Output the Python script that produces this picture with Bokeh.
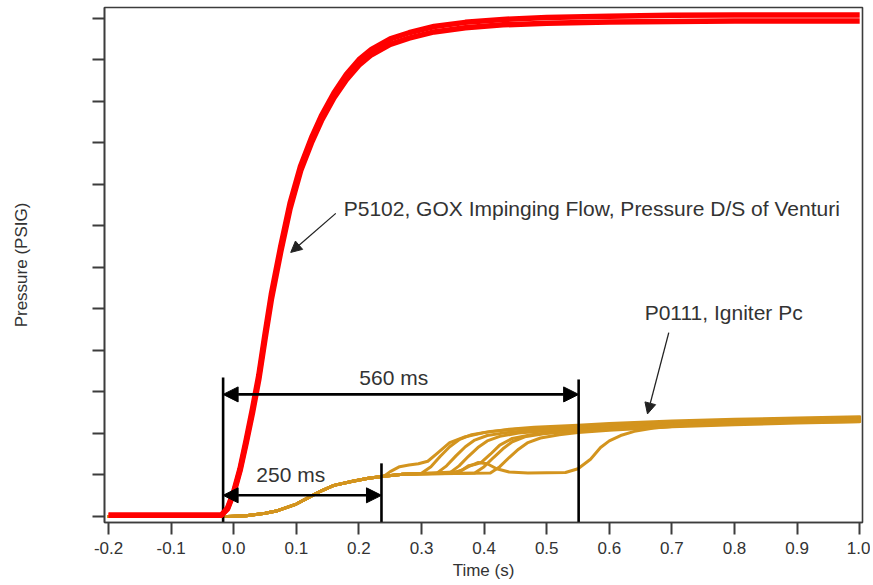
from bokeh.plotting import figure
from bokeh.models import (Range1d, FixedTicker, CustomJSTickFormatter, NumeralTickFormatter,
                          Arrow, NormalHead, Label)
from bokeh.embed import file_html
from bokeh.resources import INLINE

# ---------------- data ----------------
x_ticks = [-0.2, -0.1, 0.0, 0.1, 0.2, 0.3, 0.4, 0.5, 0.6, 0.7, 0.8, 0.9, 1.0]
y_ticks = [0, 1, 2, 3, 4, 5, 6, 7, 8, 9, 10, 11, 12]

# P5102 GOX impinging flow (band of runs: upper and lower edge)
red_time = [-0.2, -0.02, -0.01, 0.0, 0.01, 0.02, 0.03, 0.04, 0.05, 0.06, 0.075, 0.09, 0.107,
            0.125, 0.14, 0.16, 0.18, 0.2, 0.22, 0.25, 0.28, 0.32, 0.37, 0.43, 0.5, 0.6, 0.7,
            0.8, 0.9, 1.0]
red_upper = [0.03, 0.03, 0.2, 0.6, 1.15, 1.85, 2.6, 3.4, 4.4, 5.35, 6.5, 7.55, 8.45, 9.15,
             9.65, 10.2, 10.65, 11.0, 11.25, 11.5, 11.65, 11.8, 11.9, 11.97, 12.02, 12.05,
             12.07, 12.08, 12.08, 12.08]
red_lower = [0.03, 0.03, 0.18, 0.56, 1.1, 1.78, 2.5, 3.3, 4.28, 5.22, 6.37, 7.42, 8.33, 9.03,
             9.53, 10.08, 10.52, 10.87, 11.12, 11.37, 11.52, 11.67, 11.77, 11.84, 11.88, 11.91,
             11.92, 11.93, 11.93, 11.93]

# P0111 igniter Pc runs (common start, then individual runs)
gold_start_time = [-0.2, -0.01, 0.02, 0.05, 0.07, 0.1, 0.12, 0.14, 0.16, 0.19, 0.215, 0.24]
gold_start_val = [0.0, 0.0, 0.02, 0.08, 0.14, 0.3, 0.46, 0.62, 0.75, 0.85, 0.92, 0.97]

gold_a_time = [0.25, 0.265, 0.28, 0.295, 0.31, 0.325, 0.345, 0.37, 0.40, 0.44, 0.48, 0.55, 0.6,
               0.7, 0.8, 0.9, 1.0]
gold_a_val = [1.08, 1.2, 1.24, 1.27, 1.33, 1.52, 1.78, 1.92, 2.02, 2.1, 2.15, 2.2, 2.24, 2.3,
              2.34, 2.37, 2.4]
gold_b_time = [0.27, 0.30, 0.315, 0.33, 0.345, 0.36, 0.38, 0.41, 0.45, 0.5, 0.55, 0.6, 0.7, 0.8,
               0.9, 1.0]
gold_b_val = [1.02, 1.04, 1.2, 1.45, 1.68, 1.85, 1.97, 2.05, 2.1, 2.14, 2.17, 2.2, 2.26, 2.31,
              2.34, 2.37]
gold_c_time = [0.27, 0.325, 0.34, 0.355, 0.37, 0.385, 0.405, 0.435, 0.47, 0.51, 0.55, 0.6, 0.7,
               0.8, 0.9, 1.0]
gold_c_val = [1.02, 1.05, 1.22, 1.46, 1.68, 1.84, 1.95, 2.02, 2.07, 2.1, 2.13, 2.17, 2.23, 2.28,
              2.32, 2.35]
gold_d_time = [0.27, 0.345, 0.36, 0.375, 0.39, 0.405, 0.425, 0.455, 0.49, 0.52, 0.55, 0.6, 0.7,
               0.8, 0.9, 1.0]
gold_d_val = [1.02, 1.05, 1.22, 1.45, 1.66, 1.82, 1.93, 2.01, 2.05, 2.08, 2.1, 2.14, 2.21, 2.26,
              2.3, 2.33]
gold_e_time = [0.27, 0.35, 0.365, 0.375, 0.385, 0.395, 0.41, 0.425, 0.445, 0.475, 0.51, 0.55,
               0.6, 0.7, 0.8, 0.9, 1.0]
gold_e_val = [1.02, 1.05, 1.12, 1.22, 1.25, 1.3, 1.5, 1.72, 1.88, 1.97, 2.03, 2.07, 2.12, 2.19,
              2.24, 2.28, 2.31]
gold_f_time = [0.27, 0.385, 0.4, 0.415, 0.43, 0.445, 0.465, 0.495, 0.53, 0.55, 0.6, 0.7, 0.8,
               0.9, 1.0]
gold_f_val = [1.02, 1.05, 1.2, 1.42, 1.63, 1.8, 1.92, 1.99, 2.04, 2.06, 2.11, 2.18, 2.23, 2.27,
              2.29]
gold_g_time = [0.27, 0.41, 0.425, 0.44, 0.455, 0.47, 0.49, 0.52, 0.55, 0.6, 0.7, 0.8, 0.9, 1.0]
gold_g_val = [1.02, 1.05, 1.2, 1.42, 1.62, 1.78, 1.89, 1.97, 2.02, 2.08, 2.16, 2.21, 2.25, 2.28]
gold_h_time = [0.27, 0.31, 0.36, 0.375, 0.39, 0.405, 0.42, 0.44, 0.47, 0.53, 0.55, 0.57, 0.586,
               0.6, 0.618, 0.64, 0.671, 0.725, 0.8, 0.9, 1.0]
gold_h_val = [1.02, 1.04, 1.08, 1.2, 1.3, 1.27, 1.15, 1.07, 1.05, 1.06, 1.15, 1.38, 1.66, 1.82,
              1.95, 2.05, 2.13, 2.2, 2.25, 2.29, 2.32]

gold_runs = [(gold_a_time, gold_a_val), (gold_b_time, gold_b_val), (gold_c_time, gold_c_val),
             (gold_d_time, gold_d_val), (gold_e_time, gold_e_val), (gold_f_time, gold_f_val),
             (gold_g_time, gold_g_val), (gold_h_time, gold_h_val)]

# timing markers (s) and annotation texts
t_open = -0.017
t_250 = 0.236
t_560 = 0.551
label_250 = "250 ms"
label_560 = "560 ms"
label_red = "P5102, GOX Impinging Flow, Pressure D/S of Venturi"
label_gold = "P0111, Igniter Pc"

# ---------------- figure ----------------
RED = "#ff0000"
GOLD = "#d3941e"
INK = "#333333"
FONT = "Liberation Sans"

y_lo, y_hi = -0.1445, 12.258
p = figure(frame_width=758, frame_height=515,
           x_range=Range1d(-0.2065, 1.0045), y_range=Range1d(y_lo, y_hi),
           output_backend="svg", toolbar_location=None,
           min_border_left=104, min_border_right=8, min_border_top=7, min_border_bottom=0)
p.background_fill_color = "white"
p.border_fill_color = "white"
p.outline_line_color = "#3c3c3c"
p.outline_line_width = 1.6
p.xgrid.visible = False
p.ygrid.visible = False

for ax in (p.xaxis[0], p.yaxis[0]):
    ax.axis_line_color = "#3c3c3c"
    ax.axis_line_width = 1.6
    ax.major_tick_line_color = "#3c3c3c"
    ax.major_tick_line_width = 2
    ax.major_tick_out = 12
    ax.major_tick_in = 0
    ax.minor_tick_line_color = None
    ax.major_label_text_font = FONT
    ax.major_label_text_font_size = "17px"
    ax.major_label_text_color = INK
    ax.axis_label_text_font = FONT
    ax.axis_label_text_font_size = "17px"
    ax.axis_label_text_font_style = "normal"
    ax.axis_label_text_color = INK

p.xaxis.ticker = FixedTicker(ticks=x_ticks)
p.xaxis.formatter = NumeralTickFormatter(format="0.0")
p.xaxis.major_label_standoff = 7
p.xaxis.axis_label = "Time (s)"
p.xaxis.axis_label_standoff = 4

p.yaxis.ticker = FixedTicker(ticks=y_ticks)
p.yaxis.formatter = CustomJSTickFormatter(code="return ''")
p.yaxis.major_label_standoff = 0
p.yaxis.axis_label = "Pressure (PSIG)"
p.yaxis.axis_label_standoff = 62

# gold igniter runs
for t_run, v_run in gold_runs:
    p.line(gold_start_time + t_run, gold_start_val + v_run, line_color=GOLD, line_width=3,
           line_join="round", line_cap="round")

# black timing markers
for t_mark, top in ((t_open, 3.35), (t_250, 1.28), (t_560, 3.3)):
    p.segment(x0=[t_mark], y0=[y_lo], x1=[t_mark], y1=[top], line_color="black", line_width=2.6)

for y_arrow, t_end in ((2.94, t_560), (0.51, t_250)):
    p.add_layout(Arrow(x_start=t_open, y_start=y_arrow, x_end=t_end, y_end=y_arrow,
                       line_color="black", line_width=2.6,
                       start=NormalHead(size=15, fill_color="black", line_color="black", line_width=1),
                       end=NormalHead(size=15, fill_color="black", line_color="black", line_width=1)))

# red GOX runs
p.line(red_time, red_lower, line_color=RED, line_width=5.5, line_join="round")
p.line(red_time, red_upper, line_color=RED, line_width=5.5, line_join="round")

# pointer arrows
p.add_layout(Arrow(x_start=0.163, y_start=7.30, x_end=0.091, y_end=6.36, line_color="#222222",
                   line_width=1.3,
                   end=NormalHead(size=11, fill_color="#222222", line_color="#222222", line_width=1)))
p.add_layout(Arrow(x_start=0.695, y_start=4.43, x_end=0.661, y_end=2.47, line_color="#222222",
                   line_width=1.3,
                   end=NormalHead(size=11, fill_color="#222222", line_color="#222222", line_width=1)))

# texts
for txt, tx, ty, align in ((label_red, 0.1757, 7.42, "left"), (label_gold, 0.7827, 4.92, "center"),
                           (label_560, 0.2556, 3.35, "center"), (label_250, 0.091, 1.0, "center")):
    p.add_layout(Label(x=tx, y=ty, text=txt, text_align=align, text_baseline="middle",
                       text_font=FONT, text_font_size="21px", text_color=INK))

open("out.html", "w").write(file_html(p, INLINE))
